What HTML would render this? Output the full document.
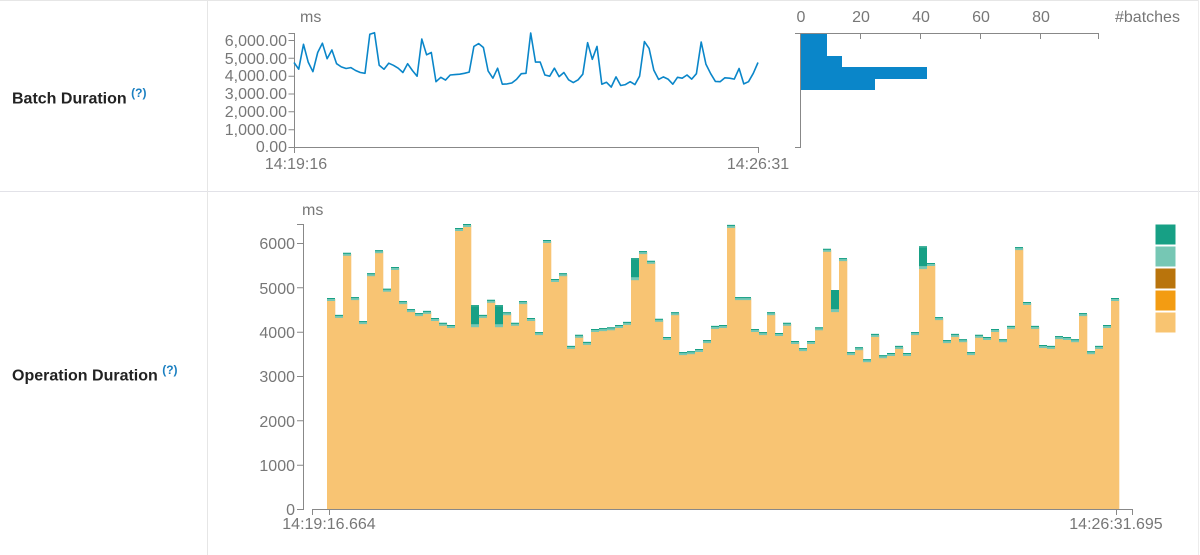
<!DOCTYPE html>
<html><head><meta charset="utf-8"><style>
body{margin:0;background:#fff;width:1200px;height:555px;overflow:hidden;font-family:"Liberation Sans",sans-serif}
.lbl{position:absolute;left:12px;font-weight:bold;font-size:16px;color:#222}
.lbl sup{color:#1a7fc1;font-size:12px}
svg text{font-family:"Liberation Sans",sans-serif;fill:#777;font-size:16px}
</style></head><body>
<div style="position:absolute;left:0;top:0;width:1198px;height:1px;background:#e6e6e6"></div>
<div style="position:absolute;left:0;top:191px;width:1200px;height:1px;background:#e2e2e8"></div>
<div style="position:absolute;left:207px;top:0;width:1px;height:555px;background:#e6e6e6"></div>
<div style="position:absolute;left:1198px;top:0;width:1px;height:555px;background:#ececec"></div>
<div class="lbl" style="top:86px">Batch Duration <sup>(?)</sup></div>
<div class="lbl" style="top:363px">Operation Duration <sup>(?)</sup></div>
<svg id="s" width="1200" height="555" style="position:absolute;left:0;top:0">
<g stroke="#888" fill="none" stroke-width="1">
<path d="M288.5,33.5H294.5V147.5H758.5V153"/>
<path d="M294.5,147.5V153"/>
<path d="M288.5,147.5h6M288.5,129.7h6M288.5,111.8h6M288.5,94h6M288.5,76.2h6M288.5,58.3h6M288.5,40.5h6"/>
<path d="M795,33.5H1098.5V39M800.5,33.5V39M860.5,33.5V39M920.5,33.5V39M980.5,33.5V39M1040.5,33.5V39"/>
<path d="M800.5,33.5V147.5H795"/>
<path d="M297,224.5H303.5V509.5H297M297,465.2h6M297,420.8h6M297,376.5h6M297,332.2h6M297,287.8h6M297,243.5h6"/>
<path d="M312.5,515V509.5H1132.5V515M329.5,509.5V515M1116.5,509.5V515"/>
</g>
<text x="300" y="22">ms</text>
<g text-anchor="end">
<text x="287" y="152">0.00</text><text x="287" y="135">1,000.00</text><text x="287" y="117">2,000.00</text><text x="287" y="99">3,000.00</text><text x="287" y="81">4,000.00</text><text x="287" y="64">5,000.00</text><text x="287" y="46">6,000.00</text>
<text x="295" y="515">0</text><text x="295" y="471">1000</text><text x="295" y="427">2000</text><text x="295" y="382">3000</text><text x="295" y="338">4000</text><text x="295" y="294">5000</text><text x="295" y="249">6000</text>
</g>
<text x="296" y="169" text-anchor="middle">14:19:16</text>
<text x="758" y="169" text-anchor="middle">14:26:31</text>
<g text-anchor="middle">
<text x="801" y="22">0</text><text x="861" y="22">20</text><text x="921" y="22">40</text><text x="981" y="22">60</text><text x="1041" y="22">80</text>
</g>
<text x="1115" y="22">#batches</text>
<text x="302" y="215">ms</text>
<text x="329" y="529" text-anchor="middle">14:19:16.664</text>
<text x="1116" y="529" text-anchor="middle">14:26:31.695</text>
<g fill="#0a86c9">
<rect x="801" y="34" width="26" height="22"/><rect x="801" y="56" width="41" height="12"/><rect x="801" y="67" width="126" height="12"/><rect x="801" y="79" width="74" height="11"/>
</g>
<g stroke="#fff" stroke-width="1">
<rect x="1155" y="224" width="21" height="21" fill="#17a085"/>
<rect x="1155" y="246" width="21" height="21" fill="#76c7b4"/>
<rect x="1155" y="268" width="21" height="21" fill="#b9740c"/>
<rect x="1155" y="290" width="21" height="21" fill="#f39c12"/>
<rect x="1155" y="312" width="21" height="21" fill="#f8c471"/>
</g>
<g id="bars"></g>
<polyline id="ln" fill="none" stroke="#0a86c9" stroke-width="1.6" stroke-linejoin="round"/>
</svg>
<script>
var v=[4.74,4.36,5.76,4.76,4.22,5.3,5.82,4.95,5.44,4.67,4.49,4.4,4.45,4.29,4.18,4.13,6.32,6.41,4.58,4.36,4.7,4.58,4.42,4.18,4.67,4.29,3.97,6.05,5.17,5.3,3.66,3.91,3.75,4.04,4.06,4.08,4.13,4.2,5.64,5.8,5.58,4.27,3.86,4.42,3.52,3.54,3.59,3.79,4.11,4.13,6.39,4.76,4.76,4.04,3.97,4.42,3.95,4.18,3.77,3.61,3.77,4.08,5.85,4.92,5.64,3.52,3.63,3.36,3.93,3.45,3.5,3.66,3.5,3.97,5.91,5.53,4.31,3.79,3.93,3.81,3.52,3.91,3.86,4.04,3.81,4.11,5.89,4.65,4.11,3.68,3.66,3.88,3.86,3.81,4.4,3.54,3.66,4.13,4.74];
var g={18:.43,21:.43,38:.43,63:.43,74:.45};
var n=v.length,bw=792/n,h='',pts=[];
for(var i=0;i<n;i++){
 var x=327+i*bw,t=509-v[i]*44.3,gr=g[i]||0,ot=t+gr*44.3;
 h+='<rect x="'+x.toFixed(2)+'" y="'+ot.toFixed(1)+'" width="'+(bw+0.3).toFixed(2)+'" height="'+(509-ot).toFixed(1)+'" fill="#f8c473"/>';
 if(gr)h+='<rect x="'+x.toFixed(2)+'" y="'+t.toFixed(1)+'" width="'+bw.toFixed(2)+'" height="'+(gr*44.3).toFixed(1)+'" fill="#17a085"/>';
 h+='<rect x="'+x.toFixed(2)+'" y="'+(ot-1).toFixed(1)+'" width="'+bw.toFixed(2)+'" height="3" fill="#76c7b4"/>';
 h+='<rect x="'+x.toFixed(2)+'" y="'+(t-1).toFixed(1)+'" width="'+bw.toFixed(2)+'" height="1" fill="#17a085"/>';
 pts.push((294+i*464/(n-1)).toFixed(1)+','+(147-v[i]*1000*107/6000).toFixed(1));
}
document.getElementById('bars').innerHTML=h;
document.getElementById('ln').setAttribute('points',pts.join(' '));
</script>
</body></html>
